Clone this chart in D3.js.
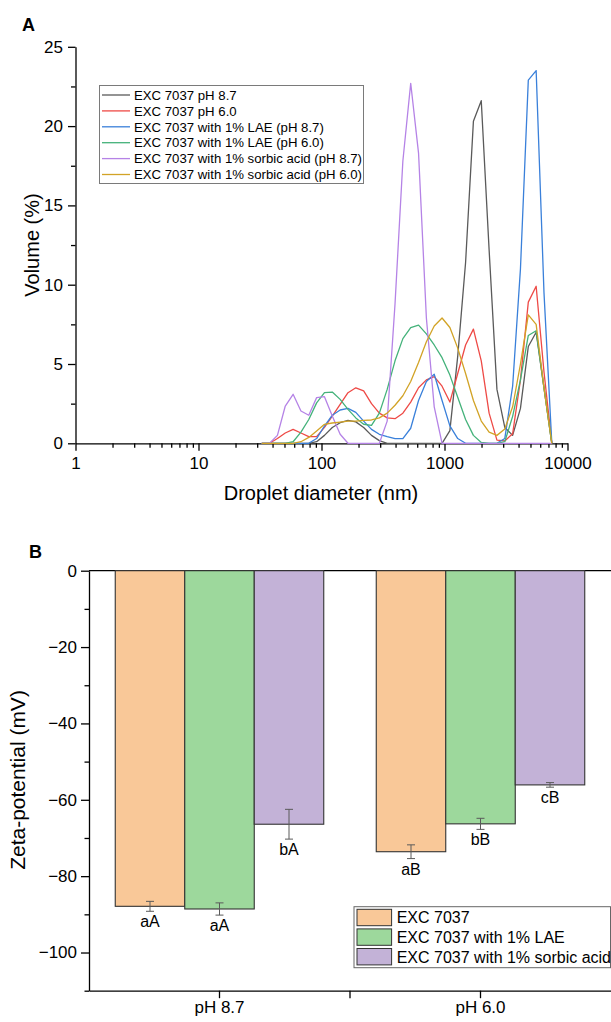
<!DOCTYPE html>
<html>
<head>
<meta charset="utf-8">
<script src="https://cdn.jsdelivr.net/npm/d3@7"></script>
<style>
  body { margin: 0; background: #fff; }
  svg { display: block; font-family: "Liberation Sans", Arial, sans-serif; }
</style>
</head>
<body>
<svg id="chart" width="611" height="1022"></svg>
<script>
var WIDTH = 611;
var HEIGHT = 1022;

// Panel A: size classes (nm) and volume (%)
var sizes = [32.67, 37.84, 43.82, 50.75, 58.77, 68.06, 78.82, 91.28, 105.7, 122.4, 141.8, 164.2, 190.1, 220.2, 255.0, 295.3, 342.0, 396.1, 458.7, 531.2, 615.1, 712.4, 825.0, 955.4, 1106, 1281, 1484, 1718, 1990, 2305, 2669, 3091, 3580, 4145, 4801, 5560, 6439, 7456];

var seriesNames = [
    'EXC 7037 pH 8.7',
    'EXC 7037 pH 6.0',
    'EXC 7037 with 1% LAE (pH 8.7)',
    'EXC 7037 with 1% LAE (pH 6.0)',
    'EXC 7037 with 1% sorbic acid (pH 8.7)',
    'EXC 7037 with 1% sorbic acid (pH 6.0)'
];
var lineColors = ['#5a5a5a', '#ee4a46', '#3a80da', '#44b27a', '#b583e6', '#d2a326'];

var excPh87 = [0, 0, 0, 0, 0, 0, 0, 0.1, 0.5, 1.0, 1.3, 1.45, 1.35, 1.0, 0.5, 0.17, 0, 0, 0, 0, 0, 0, 0, 0, 0.8, 5.5, 11.4, 20.3, 21.6, 12.2, 3.4, 1.0, 0.5, 2.2, 6.1, 7.0, 3.5, 0];
var excPh60 = [0, 0, 0.3, 0.65, 0.88, 0.65, 0.42, 0.42, 1.0, 1.72, 2.45, 3.19, 3.5, 3.3, 2.5, 1.9, 1.6, 1.55, 1.9, 2.6, 3.5, 4.0, 4.2, 3.6, 2.6, 4.4, 6.2, 7.2, 5.2, 1.9, 0.2, 0.15, 0.6, 4.0, 8.9, 9.9, 4.5, 0];
var laePh87 = [0, 0, 0, 0, 0, 0, 0, 0.3, 1.09, 1.77, 2.1, 2.2, 1.95, 1.4, 0.88, 0.57, 0.42, 0.3, 0.3, 0.95, 2.7, 3.9, 4.35, 2.7, 1.1, 0.3, 0, 0, 0, 0, 0, 0.3, 3.6, 11.0, 22.9, 23.5, 9.5, 0];
var laePh60 = [0, 0, 0, 0, 0.1, 0.7, 1.5, 2.55, 3.19, 3.23, 2.77, 2.14, 1.6, 1.2, 1.13, 1.9, 3.4, 5.2, 6.6, 7.3, 7.45, 6.9, 6.2, 5.4, 4.3, 2.9, 1.5, 0.5, 0.05, 0, 0, 0.1, 1.7, 4.0, 6.8, 7.1, 3.5, 0];
var sorbPh87 = [0, 0, 0.5, 2.35, 3.09, 2.04, 1.77, 2.88, 2.94, 1.72, 0.57, 0, 0, 0, 0, 0, 1.4, 8.8, 17.8, 22.7, 18.3, 7.9, 2.3, 0, 0, 0, 0, 0, 0, 0, 0, 0, 0, 0, 0, 0, 0, 0];
var sorbPh60 = [0, 0, 0, 0, 0, 0.1, 0.37, 0.78, 1.2, 1.28, 1.34, 1.4, 1.4, 1.45, 1.47, 1.6, 1.9, 2.4, 3.0, 3.9, 5.1, 6.4, 7.4, 7.9, 7.3, 6.0, 4.4, 2.7, 1.4, 0.7, 0.5, 0.9, 2.3, 5.0, 8.1, 7.5, 3.5, 0];

var volumeSeries = [excPh87, excPh60, laePh87, laePh60, sorbPh87, sorbPh60];
var xTicksA = [1, 10, 100, 1000, 10000];
var yTicksA = [0, 5, 10, 15, 20, 25];

// Panel B: zeta-potential (mV)
var phGroups = ['pH 8.7', 'pH 6.0'];
var barNames = ['EXC 7037', 'EXC 7037 with 1% LAE', 'EXC 7037 with 1% sorbic acid'];
var barColors = ['#f9c898', '#9dd89c', '#c3b2d7'];
var zetaMean = [[-87.9, -88.6, -66.4], [-73.6, -66.3, -56.1]];
var zetaSd = [[1.3, 1.6, 3.9], [1.8, 1.45, 0.6]];
var zetaLetters = [['aA', 'aA', 'bA'], ['aB', 'bB', 'cB']];
var yTicksB = [0, -20, -40, -60, -80, -100];

var svg = d3.select('#chart');
var fmt = function(d){ return d < 0 ? '\u2212' + Math.abs(d) : String(d); };

var styleAxis = function(g, size){
    g.selectAll('path, line').attr('stroke', '#000').attr('stroke-width', 1.3);
    g.selectAll('text').attr('fill', '#000').style('font-size', size + 'px').style('font-family', '"Liberation Sans", Arial, sans-serif');
};

// ---------- Panel A ----------
var xScale = d3.scaleLog().domain([1, 10000]).range([75.5, 567.5]);
var yScale = d3.scaleLinear().domain([0, 25]).range([443.3, 46.8]);

var minorX = [];
for (var dec = 1; dec < 10000; dec *= 10) {
    for (var k = 2; k < 10; k++) minorX.push(dec * k);
}

svg.append('g')
    .attr('transform', 'translate(0,443.3)')
    .call(d3.axisBottom(xScale).tickValues(minorX).tickSize(4.5).tickFormat(''))
    .call(function(g){ styleAxis(g, 17); g.select('.domain').remove(); });

var xAxisA = svg.append('g')
    .attr('transform', 'translate(0,443.3)')
    .call(d3.axisBottom(xScale).tickValues(xTicksA).tickSize(7.5).tickSizeOuter(0).tickPadding(6).tickFormat(d3.format('d')));
styleAxis(xAxisA, 17);

svg.append('g')
    .attr('transform', 'translate(75.5,0)')
    .call(d3.axisLeft(yScale).tickValues([2.5, 7.5, 12.5, 17.5, 22.5]).tickSize(4.5).tickFormat(''))
    .call(function(g){ styleAxis(g, 17); g.select('.domain').remove(); });

var yAxisA = svg.append('g')
    .attr('transform', 'translate(75.5,0)')
    .call(d3.axisLeft(yScale).tickValues(yTicksA).tickSize(7.5).tickSizeOuter(0).tickPadding(5));
styleAxis(yAxisA, 17);

var line = d3.line()
    .x(function(d){ return xScale(d[0]); })
    .y(function(d){ return yScale(d[1]); });

volumeSeries.forEach(function(values, i){
    var pts = sizes.map(function(s, j){ return [s, values[j]]; });
    svg.append('path')
        .datum(pts)
        .attr('fill', 'none')
        .attr('stroke', lineColors[i])
        .attr('stroke-width', 1.3)
        .attr('stroke-linejoin', 'round')
        .attr('d', line);
});

// legend A
var legA = svg.append('g');
legA.append('rect')
    .attr('x', 99.5).attr('y', 85.5).attr('width', 264).attr('height', 98)
    .attr('fill', '#fff').attr('stroke', '#7a7a7a').attr('stroke-width', 1);
seriesNames.forEach(function(name, i){
    var cy = 95 + i * 15.9;
    legA.append('line')
        .attr('x1', 102).attr('x2', 130).attr('y1', cy).attr('y2', cy)
        .attr('stroke', lineColors[i]).attr('stroke-width', 1.3);
    legA.append('text')
        .attr('x', 134).attr('y', cy + 4.7)
        .style('font-size', '13.2px')
        .text(name);
});

svg.append('text')
    .attr('x', 321).attr('y', 500)
    .attr('text-anchor', 'middle')
    .style('font-size', '20px')
    .text('Droplet diameter (nm)');

svg.append('text')
    .attr('transform', 'translate(39,245) rotate(-90)')
    .attr('text-anchor', 'middle')
    .style('font-size', '20px')
    .text('Volume (%)');

svg.append('text')
    .attr('x', 22).attr('y', 31)
    .style('font-size', '18px').style('font-weight', 'bold')
    .text('A');

// ---------- Panel B ----------
var yScaleB = d3.scaleLinear().domain([-110, 0]).range([990.7, 570.7]);
var xGroup = d3.scaleBand().domain(phGroups).range([89, 611]).paddingInner(0).paddingOuter(0);
var groupW = 208.5;
var xBar = d3.scaleBand().domain(barNames).range([0, groupW]);
var groupOffset = (xGroup.bandwidth() - groupW) / 2;

// zero line across top
svg.append('line')
    .attr('x1', 89).attr('x2', WIDTH).attr('y1', yScaleB(0)).attr('y2', yScaleB(0))
    .attr('stroke', '#000').attr('stroke-width', 1.3);

phGroups.forEach(function(g, gi){
    barNames.forEach(function(b, bi){
        var x0 = xGroup(g) + groupOffset + xBar(b);
        var m = zetaMean[gi][bi];
        var sd = zetaSd[gi][bi];
        svg.append('rect')
            .attr('x', x0).attr('y', yScaleB(0))
            .attr('width', xBar.bandwidth()).attr('height', yScaleB(m) - yScaleB(0))
            .attr('fill', barColors[bi])
            .attr('stroke', '#333').attr('stroke-width', 1.1);
        var cx = x0 + xBar.bandwidth() / 2;
        var eg = svg.append('g').attr('stroke', '#5a5a5a').attr('stroke-width', 1);
        eg.append('line').attr('x1', cx).attr('x2', cx).attr('y1', yScaleB(m + sd)).attr('y2', yScaleB(m - sd));
        eg.append('line').attr('x1', cx - 4).attr('x2', cx + 4).attr('y1', yScaleB(m + sd)).attr('y2', yScaleB(m + sd));
        eg.append('line').attr('x1', cx - 4).attr('x2', cx + 4).attr('y1', yScaleB(m - sd)).attr('y2', yScaleB(m - sd));
        svg.append('text')
            .attr('x', cx).attr('y', yScaleB(m - sd) + 16)
            .attr('text-anchor', 'middle')
            .style('font-size', '16px')
            .text(zetaLetters[gi][bi]);
    });
});

svg.append('g')
    .attr('transform', 'translate(89,0)')
    .call(d3.axisLeft(yScaleB).tickValues([-10, -30, -50, -70, -90, -110]).tickSize(4.5).tickFormat(''))
    .call(function(g){ styleAxis(g, 17); g.select('.domain').remove(); });

var yAxisB = svg.append('g')
    .attr('transform', 'translate(89,0)')
    .call(d3.axisLeft(yScaleB).tickValues(yTicksB).tickSize(8).tickSizeOuter(0).tickPadding(4).tickFormat(fmt));
styleAxis(yAxisB, 17);

var xAxisB = svg.append('g')
    .attr('transform', 'translate(0,990.7)')
    .call(d3.axisBottom(xGroup).tickSize(7.5).tickSizeOuter(0).tickPadding(3));
styleAxis(xAxisB, 17);
xAxisB.append('line')
    .attr('x1', xGroup('pH 6.0')).attr('x2', xGroup('pH 6.0'))
    .attr('y1', 0).attr('y2', 7.5)
    .attr('stroke', '#000').attr('stroke-width', 1.3);

// legend B
var legB = svg.append('g');
legB.append('rect')
    .attr('x', 354).attr('y', 906.7).attr('width', 256.5).attr('height', 61)
    .attr('fill', '#fff').attr('stroke', '#666').attr('stroke-width', 1);
barNames.forEach(function(name, i){
    var top = 909.3 + i * 19.6;
    legB.append('rect')
        .attr('x', 357).attr('y', top).attr('width', 34.6).attr('height', 16.4)
        .attr('fill', barColors[i]).attr('stroke', '#333').attr('stroke-width', 1);
    legB.append('text')
        .attr('x', 396.7).attr('y', top + 14)
        .style('font-size', '16px')
        .text(name);
});

svg.append('text')
    .attr('transform', 'translate(25,780) rotate(-90)')
    .attr('text-anchor', 'middle')
    .style('font-size', '21px')
    .text('Zeta-potential (mV)');

svg.append('text')
    .attr('x', 29).attr('y', 558)
    .style('font-size', '18px').style('font-weight', 'bold')
    .text('B');
</script>
</body>
</html>
